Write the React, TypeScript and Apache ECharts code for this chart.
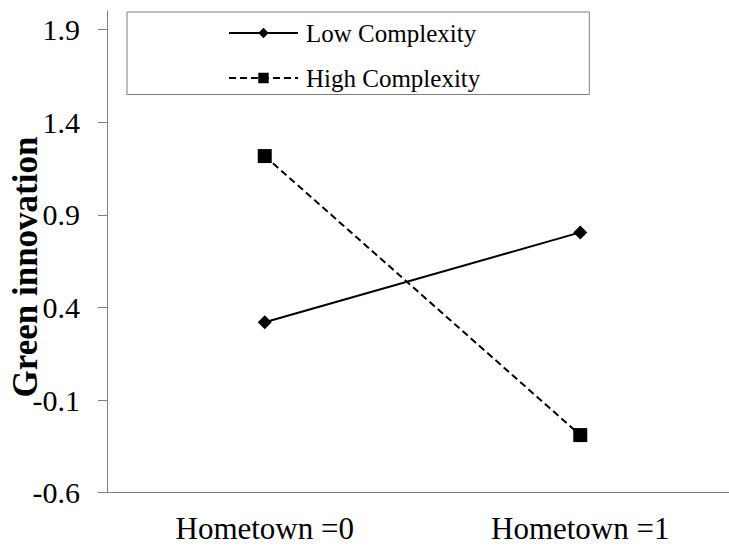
import React, { useEffect, useRef } from "react";
import * as echarts from "echarts";

const categories = ["Hometown =0", "Hometown =1"];
const lowComplexity = [0.32, 0.805];
const highComplexity = [1.217, -0.289];
const yTicks = [-0.6, -0.1, 0.4, 0.9, 1.4, 1.9];
const yMin = -0.6;
const yMax = 2.0;
const yTitle = "Green innovation";

const FONT = "'Liberation Serif', 'Times New Roman', serif";
const AXIS_GRAY = "#7f7f7f";

export default function App() {
  const ref = useRef<HTMLDivElement>(null);
  useEffect(() => {
    if (!ref.current) return;
    const chart = echarts.init(ref.current, undefined, { renderer: "svg" });
    chart.setOption({
      animation: false,
      backgroundColor: "#ffffff",
      grid: {
        left: 107,
        right: -9,
        top: 11,
        bottom: 54.3,
        containLabel: false,
        outerBoundsMode: "none",
      },
      graphic: [
        {
          type: "text",
          x: 25,
          y: 267,
          rotation: Math.PI / 2,
          style: {
            text: yTitle,
            fontFamily: FONT,
            fontSize: 35,
            fontWeight: "bold",
            fill: "#000",
            textAlign: "center",
            textVerticalAlign: "middle",
          },
        },
      ],
      legend: {
        orient: "vertical",
        left: 127,
        top: 12,
        padding: [8.5, 109, 4, 101],
        borderColor: AXIS_GRAY,
        borderWidth: 1,
        itemWidth: 69,
        itemHeight: 13,
        itemGap: 20,
        textStyle: {
          fontFamily: FONT,
          fontSize: 25,
          lineHeight: 25,
          color: "#000",
          padding: [0, 0, 0, 3],
        },
        data: ["Low Complexity", "High Complexity"],
      },
      xAxis: {
        type: "category",
        data: categories,
        boundaryGap: true,
        axisLine: { onZero: false, lineStyle: { color: AXIS_GRAY, width: 1 } },
        axisTick: { alignWithLabel: true, length: 7, lineStyle: { color: AXIS_GRAY } },
        axisLabel: { fontFamily: FONT, fontSize: 31, color: "#000", margin: 20 },
        splitLine: { show: false },
      },
      yAxis: {
        type: "value",
        min: yMin,
        max: yMax,
        axisLine: { show: true, onZero: false, lineStyle: { color: AXIS_GRAY, width: 1 } },
        axisTick: { show: true, length: 9, customValues: yTicks, lineStyle: { color: AXIS_GRAY } },
        axisLabel: {
          fontFamily: FONT,
          fontSize: 30,
          color: "#000",
          margin: 27,
          customValues: yTicks,
          formatter: (v: number) => v.toFixed(1),
        },
        splitLine: { show: false },
      },
      series: [
        {
          name: "Low Complexity",
          type: "line",
          data: lowComplexity,
          symbol: "diamond",
          symbolSize: 14,
          itemStyle: { color: "#000" },
          lineStyle: { color: "#000", width: 2, type: "solid" },
        },
        {
          name: "High Complexity",
          type: "line",
          data: highComplexity,
          symbol: "rect",
          symbolSize: 14,
          itemStyle: { color: "#000" },
          lineStyle: { color: "#000", width: 2, type: [7, 4] },
        },
      ],
    });
    return () => chart.dispose();
  }, []);
  return (
    <div
      ref={ref}
      style={{ position: "absolute", left: 0, top: 0, width: 729, height: 547 }}
    />
  );
}
